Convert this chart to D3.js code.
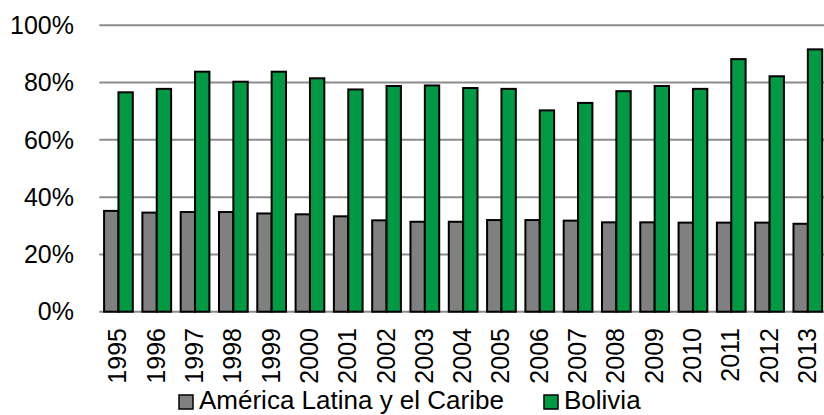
<!DOCTYPE html>
<html>
<head>
<meta charset="utf-8">
<script src="https://cdn.jsdelivr.net/npm/d3@7"></script>
<style>
  body { margin: 0; background: #fff; }
  svg { display: block; font-family: "Liberation Sans", Arial, sans-serif; }
</style>
</head>
<body>
<svg id="chart" width="824" height="415"></svg>
<script>
const years = ["1995","1996","1997","1998","1999","2000","2001","2002","2003","2004",
               "2005","2006","2007","2008","2009","2010","2011","2012","2013"];
const seriesNames = ["América Latina y el Caribe", "Bolivia"];
const latam = [35.2, 34.6, 34.8, 34.8, 34.3, 34.0, 33.3, 31.9, 31.4, 31.4,
               32.0, 32.0, 31.8, 31.2, 31.2, 31.1, 31.1, 31.1, 30.7];
const bolivia = [76.6, 77.8, 83.8, 80.3, 83.8, 81.5, 77.6, 78.8, 79.0, 78.1,
                 77.8, 70.3, 72.9, 77.0, 78.8, 77.8, 88.2, 82.2, 91.6];
const yTicks = [0, 20, 40, 60, 80, 100];
const colors = ["#808080", "#009944"];

const svg = d3.select("#chart");
const plotLeft = 99.3, plotRight = 827, plotTop = 25.3, plotBottom = 311.7;

const x = d3.scaleBand().domain(years).range([plotLeft, plotRight]).paddingInner(0.25).paddingOuter(0.125);
const xs = d3.scaleBand().domain([0, 1]).range([0, x.bandwidth()]);
const y = d3.scaleLinear().domain([0, 100]).range([plotBottom, plotTop]);

// gridlines
svg.append("g")
  .selectAll("line")
  .data(yTicks)
  .join("line")
  .attr("x1", plotLeft).attr("x2", 824)
  .attr("y1", d => y(d)).attr("y2", d => y(d))
  .attr("stroke", "#8c8c8c")
  .attr("stroke-width", 2);

// y labels
svg.append("g")
  .selectAll("text")
  .data(yTicks)
  .join("text")
  .attr("x", 74)
  .attr("y", d => y(d))
  .attr("dy", "0.35em")
  .attr("text-anchor", "end")
  .attr("font-size", 25)
  .attr("fill", "#000")
  .text(d => d + "%");

// bars
const series = [latam, bolivia];
const groups = svg.append("g")
  .selectAll("g")
  .data(series)
  .join("g")
  .attr("fill", (d, i) => colors[i]);

groups.selectAll("rect")
  .data((d, i) => d.map((v, j) => ({ v, j, i })))
  .join("rect")
  .attr("x", d => x(years[d.j]) + xs(d.i))
  .attr("y", d => y(d.v))
  .attr("width", xs.bandwidth())
  .attr("height", d => y(0) - y(d.v))
  .attr("stroke", "#000")
  .attr("stroke-width", 2);

// x labels
svg.append("g")
  .selectAll("text")
  .data(years)
  .join("text")
  .attr("transform", d => `translate(${x(d) + x.bandwidth() / 2 + 8},328) rotate(-90)`)
  .attr("text-anchor", "end")
  .attr("font-size", 25)
  .attr("fill", "#000")
  .text(d => d);

// legend (nudged up a little so descenders stay inside the frame)
const legendX = [179, 544];
const legend = svg.append("g")
  .selectAll("g")
  .data(seriesNames)
  .join("g")
  .attr("transform", (d, i) => `translate(${legendX[i]},395)`);

legend.append("rect")
  .attr("width", 14).attr("height", 14)
  .attr("fill", (d, i) => colors[i])
  .attr("stroke", "#000")
  .attr("stroke-width", 1.5);

legend.append("text")
  .attr("x", 20)
  .attr("y", 14)
  .attr("font-size", 26)
  .attr("fill", "#000")
  .text(d => d);
</script>
</body>
</html>
